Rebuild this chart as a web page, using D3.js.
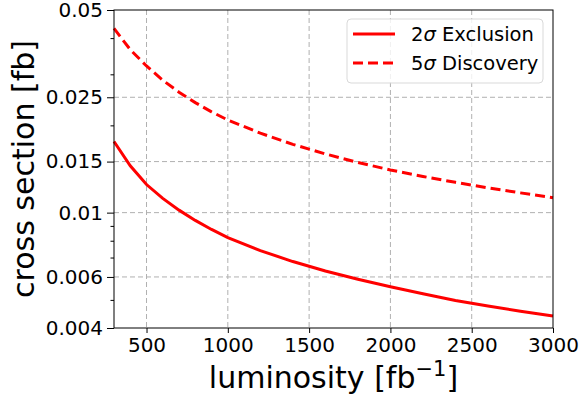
<!DOCTYPE html>
<html><head><meta charset="utf-8">
<script src="https://cdn.jsdelivr.net/npm/d3@7"></script>
<style>body{margin:0;background:#fff}svg{display:block;font-family:"DejaVu Sans",sans-serif}</style>
</head><body>
<script>
const luminosity = [300,400,500,600,700,800,900,1000,1200,1400,1600,1800,2000,2200,2400,2600,2800,3000];
const exclusion2sigma = [0.0176,0.0145,0.0125,0.0112,0.0102,0.0094,0.00875,0.0082,0.0074,0.00678,0.00629,0.00589,0.00555,0.00525,0.00498,0.00476,0.00457,0.0044];
const discovery5sigma = [0.0432,0.0365,0.03205,0.02863,0.02603,0.02396,0.02227,0.02087,0.0188,0.0172,0.01594,0.0149,0.01403,0.01333,0.01272,0.01218,0.0117,0.01126];
const xTicks = [500,1000,1500,2000,2500,3000];
const yTicks = [0.004,0.006,0.01,0.015,0.025,0.05];
const yTickLabels = ["0.004","0.006","0.01","0.015","0.025","0.05"];
const yMinorTicks = [0.005,0.007,0.008,0.009,0.02,0.03,0.04];

const W=584,H=400, L=114,R=553,T=10,B=328;
const svg=d3.select("body").append("svg").attr("width",W).attr("height",H);
const x=d3.scaleLinear().domain([300,3000]).range([L,R]);
const y=d3.scaleLog().domain([0.004,0.05]).range([B,T]);

// grid
const g=svg.append("g");
g.selectAll(".gx").data(xTicks.slice(0,-1)).join("line")
 .attr("x1",d=>x(d)).attr("x2",d=>x(d)).attr("y1",T).attr("y2",B)
 .attr("stroke","#b0b0b0").attr("stroke-width",1).attr("stroke-dasharray","5,3");
g.selectAll(".gy").data(yTicks.slice(1,-1)).join("line")
 .attr("x1",L).attr("x2",R).attr("y1",d=>y(d)).attr("y2",d=>y(d))
 .attr("stroke","#b0b0b0").attr("stroke-width",1).attr("stroke-dasharray","5,3");

// lines
const line=(vals)=>d3.line().x((d,i)=>x(luminosity[i])).y(d=>y(d))(vals);
svg.append("path").attr("d",line(exclusion2sigma)).attr("fill","none").attr("stroke","#ff0000").attr("stroke-width",3);
svg.append("path").attr("d",line(discovery5sigma)).attr("fill","none").attr("stroke","#ff0000").attr("stroke-width",3).attr("stroke-dasharray","10,5");

// axes
const xa=svg.append("g").attr("transform",`translate(0,${B})`)
 .call(d3.axisBottom(x).tickValues(xTicks).tickSize(5).tickFormat(d3.format("d")));
const ya=svg.append("g").attr("transform",`translate(${L},0)`)
 .call(d3.axisLeft(y).tickValues(yTicks).tickSize(7).tickPadding(4).tickFormat((d,i)=>yTickLabels[i]));
svg.append("g").attr("transform",`translate(${L},0)`)
 .call(d3.axisLeft(y).tickValues(yMinorTicks).tickSize(3.5).tickFormat(""))
 .call(s=>s.select(".domain").remove());
[xa,ya].forEach(a=>{a.selectAll("text").attr("font-size",20).attr("fill","#000").attr("font-family","DejaVu Sans");
 a.select(".domain").remove();});
xa.selectAll("text").attr("y",24).attr("dy",0);
svg.selectAll(".tick line").attr("stroke","#000");

// frame
svg.append("rect").attr("x",L).attr("y",T).attr("width",R-L).attr("height",B-T)
 .attr("fill","none").attr("stroke","#000").attr("stroke-width",1);

// axis labels
svg.append("text").attr("transform",`translate(${34},${(T+B)/2}) rotate(-90)`)
 .attr("text-anchor","middle").attr("font-size",30).text("cross section [fb]");
const xl=svg.append("text").attr("x",(L+R)/2).attr("y",388).attr("text-anchor","middle").attr("font-size",30);
xl.append("tspan").text("luminosity [fb");
xl.append("tspan").attr("dy",-12).attr("font-size",21).text("\u22121");
xl.append("tspan").attr("dy",12).text("]");

// legend
const lg=svg.append("g");
lg.append("rect").attr("x",347).attr("y",19).attr("width",196).attr("height",64).attr("rx",4)
 .attr("fill","#fff").attr("fill-opacity",0.8).attr("stroke","#d9d9d9").attr("stroke-width",1);
const items=[{n:"2",t:" Exclusion",dash:null,yy:34},{n:"5",t:" Discovery",dash:"10,5",yy:63}];
items.forEach(it=>{
 lg.append("line").attr("x1",353).attr("x2",395).attr("y1",it.yy).attr("y2",it.yy)
  .attr("stroke","#ff0000").attr("stroke-width",3).attr("stroke-dasharray",it.dash);
 const t=lg.append("text").attr("x",411).attr("y",it.yy).attr("dominant-baseline","central").attr("font-size",19.5);
 t.append("tspan").text(it.n);
 t.append("tspan").attr("font-style","italic").text("\u03c3");
 t.append("tspan").text(it.t);
});
</script>
</body></html>
